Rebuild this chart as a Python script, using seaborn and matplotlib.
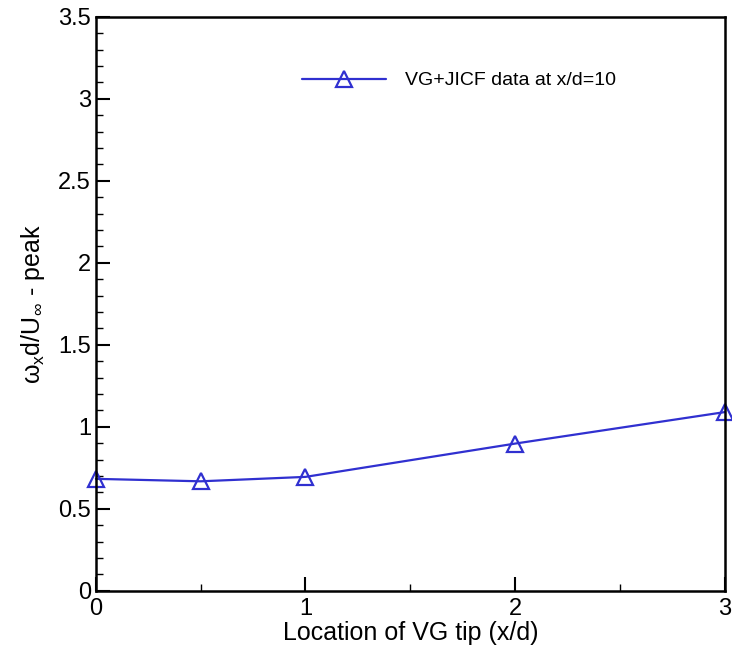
import matplotlib
matplotlib.use("Agg")
import matplotlib.pyplot as plt
import seaborn as sns
import pandas as pd
from matplotlib.ticker import MultipleLocator, FormatStrFormatter

x_loc = [0, 0.5, 1, 2, 3]
omega_peak = [0.683, 0.668, 0.695, 0.898, 1.09]
series_label = "VG+JICF data at x/d=10"

sns.set_theme(style="white")
plt.rcParams['font.family'] = ['Liberation Sans', 'DejaVu Sans']
plt.rcParams['mathtext.fontset'] = 'custom'
plt.rcParams['mathtext.rm'] = 'Liberation Sans'
plt.rcParams['mathtext.it'] = 'Liberation Sans'
plt.rcParams['text.color'] = 'black'
plt.rcParams['axes.labelcolor'] = 'black'
plt.rcParams['xtick.color'] = 'black'
plt.rcParams['ytick.color'] = 'black'

df = pd.DataFrame({"x": x_loc, "y": omega_peak, "s": series_label})

fig = plt.figure(figsize=(7.32, 6.5), dpi=100)
ax = fig.add_axes([0.131, 0.091, 0.859, 0.883])
color = "#3030d0"
sns.lineplot(data=df, x="x", y="y", hue="s", palette=[color], marker="^",
             markersize=11, markerfacecolor="none", markeredgecolor=color,
             markeredgewidth=1.6, linewidth=1.6, ax=ax, clip_on=False)

ax.set_xlim(0, 3)
ax.set_ylim(0, 3.5)
ax.xaxis.set_major_locator(MultipleLocator(1))
ax.xaxis.set_minor_locator(MultipleLocator(0.5))
ax.yaxis.set_major_locator(MultipleLocator(0.5))
ax.yaxis.set_minor_locator(MultipleLocator(0.1))
ax.yaxis.set_major_formatter(FormatStrFormatter('%g'))
ax.xaxis.set_major_formatter(FormatStrFormatter('%g'))
ax.tick_params(which="both", direction="in", top=False, right=False, left=True, bottom=True,
               color="black", labelsize=17, labelcolor="black")
ax.tick_params(which="major", length=10, width=1.5)
ax.tick_params(which="minor", length=5, width=1)
ax.tick_params(axis="x", pad=5)
for sp in ax.spines.values():
    sp.set_color("black")
    sp.set_linewidth(1.8)

ax.set_xlabel("Location of VG tip (x/d)", fontsize=18, labelpad=1)
ax.set_ylabel(r"$\omega_x$d/U$_\infty$ - peak", fontsize=18, labelpad=8)

leg = ax.legend(loc="upper left", bbox_to_anchor=(0.3, 0.935), frameon=False,
                fontsize=14, handlelength=4.3, handletextpad=1.0, title=None)

fig.savefig("out.png", dpi=100)
